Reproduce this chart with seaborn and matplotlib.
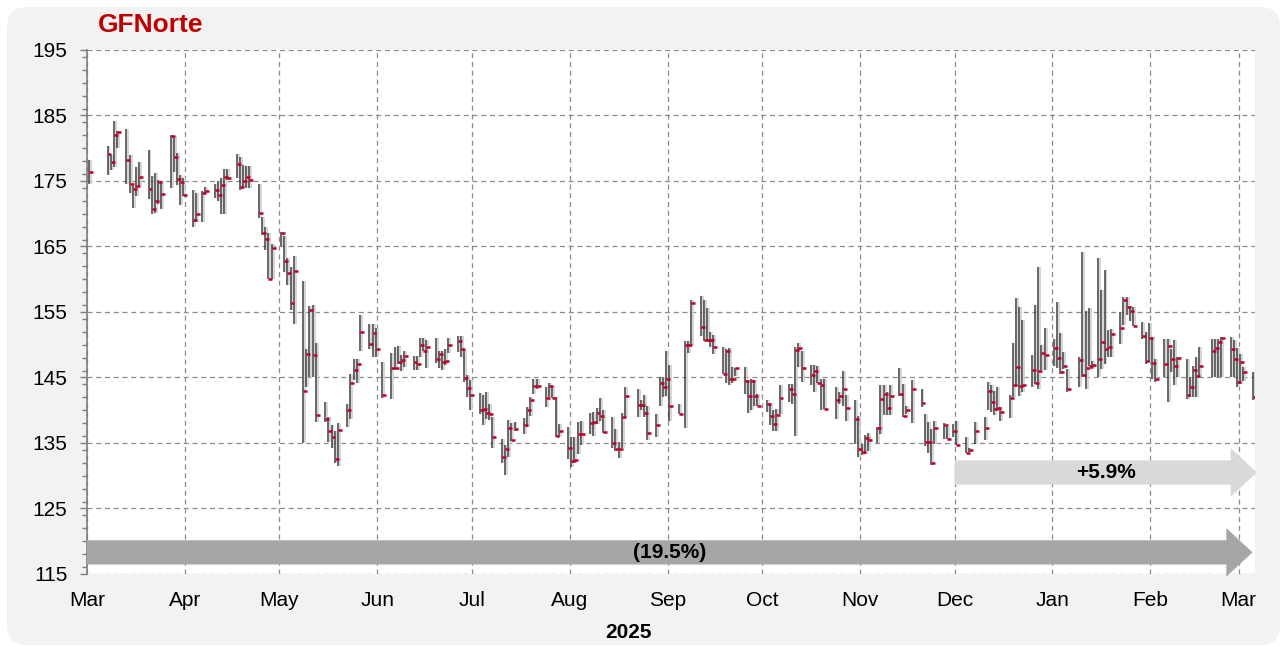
import numpy as np
import pandas as pd
import matplotlib
matplotlib.use('Agg')
import matplotlib.pyplot as plt
import matplotlib.dates as mdates
import seaborn as sns
from matplotlib.patches import FancyBboxPatch, FancyArrow
from matplotlib.ticker import MultipleLocator

# ---------------------------------------------------------
# Data (day = days after 2024-03-01)
# ---------------------------------------------------------
start_date = pd.Timestamp('2024-03-01')

days = [0, 6, 7, 8, 9, 12, 13, 14, 15, 16, 19, 20, 21, 22, 23, 26, 27, 28, 29, 30,
        33, 34, 36, 37, 40, 41, 42, 43, 44, 47, 48, 49, 50, 51, 54, 55, 56, 57, 58,
        61, 62, 63, 64, 65, 68, 69, 70, 71, 72, 75, 76, 77, 78, 79, 82, 83, 84, 85, 86,
        89, 90, 91, 93, 96, 97, 98, 99, 100, 103, 104, 105, 106, 107, 110, 111, 112, 113, 114,
        117, 118, 119, 120, 121, 124, 125, 126, 127, 128, 131, 132, 133, 134, 135,
        138, 139, 140, 141, 142, 145, 146, 147, 148, 149, 152, 153, 154, 155, 156,
        159, 160, 161, 162, 163, 166, 167, 168, 169, 170, 174, 175, 176, 177,
        180, 181, 182, 183, 184, 187, 189, 190, 191, 194, 195, 196, 197, 198,
        201, 202, 203, 204, 205, 208, 209, 210, 211, 212, 215, 216, 217, 218, 219,
        222, 223, 224, 225, 226, 229, 230, 231, 232, 233, 237, 238, 239, 240,
        243, 244, 245, 246, 247, 250, 251, 252, 253, 254, 257, 258, 259, 261,
        264, 265, 266, 267, 268, 271, 272, 274, 275, 278, 279, 281,
        284, 285, 286, 287, 288, 289, 292, 293, 294, 295, 296, 299, 300, 301, 302, 303,
        306, 307, 308, 309, 310, 314, 315, 316, 317, 318, 320, 321, 322, 323, 324,
        327, 328, 329, 330, 331, 334, 335, 336, 337, 338, 341, 342, 343, 344, 345,
        348, 349, 350, 351, 352, 356, 357, 358, 359, 362, 363, 364, 365, 366, 369]

highs = [178.2, 180.4, 179.0, 184.2, 182.6, 182.9, 179.0, 174.2, 177.2, 177.9, 179.7, 175.7, 176.2, 175.1, 175.0,
         182.0, 181.8, 179.2, 175.9, 175.5, 173.7, 173.2, 173.5, 174.1, 174.6, 175.0, 175.5, 176.9, 176.9,
         179.1, 178.7, 177.4, 177.3, 177.3, 174.6, 169.5, 168.0, 167.0, 165.4,
         167.2, 166.6, 163.2, 161.9, 163.5, 159.8, 149.4, 155.9, 156.0, 150.3, 141.3, 139.0, 137.7, 136.9, 138.0,
         141.0, 145.6, 147.8, 147.8, 154.6, 153.1, 153.1, 152.5, 147.3, 148.8, 149.6, 149.8, 148.4, 149.1,
         148.3, 148.3, 151.0, 151.0, 150.8, 151.0, 149.1, 149.0, 149.3, 151.0,
         151.3, 151.4, 149.2, 145.4, 144.6, 142.6, 142.3, 142.8, 141.0, 139.0, 135.6, 134.7, 138.5, 138.0, 138.2,
         138.8, 140.5, 142.0, 144.8, 144.8, 143.6, 144.1, 143.7, 142.0, 137.9, 137.5, 135.9, 135.9, 138.2, 138.3,
         139.6, 139.7, 140.4, 141.9, 140.1, 139.0, 137.2, 135.1, 139.6, 143.5, 143.2, 141.5, 142.4, 140.7,
         139.5, 145.0, 145.0, 149.0, 146.9, 141.0, 150.5, 150.6, 156.8, 157.5, 156.9, 155.6, 152.0, 151.5,
         149.6, 149.3, 149.5, 146.6, 146.5, 146.6, 144.6, 144.7, 144.6, 142.5, 141.6, 141.1, 140.0, 140.2, 143.9,
         144.0, 144.0, 149.7, 150.3, 149.1, 146.9, 146.9, 146.7, 144.7, 144.7, 143.5, 142.8, 146.0, 142.4,
         141.5, 139.1, 134.8, 136.2, 136.5, 137.4, 143.8, 143.8, 142.8, 143.9, 146.4, 144.0, 140.7, 144.6,
         143.3, 139.4, 138.2, 137.1, 138.4, 138.0, 137.4, 137.9, 138.4, 135.9, 134.3, 138.2,
         138.9, 144.3, 143.8, 143.0, 143.5, 140.5, 142.4, 150.3, 157.2, 155.8, 153.8, 148.4, 156.0, 161.9, 149.9, 152.6,
         150.9, 156.5, 151.8, 148.9, 146.3, 148.1, 164.2, 155.1, 155.6, 147.5, 163.2, 158.4, 161.4, 152.3, 152.4,
         155.0, 157.3, 157.3, 155.9, 155.8, 153.5, 152.0, 153.3, 151.2, 147.9, 150.9, 150.9, 149.4, 150.7, 148.1,
         147.9, 145.1, 146.8, 148.1, 149.6, 150.9, 150.9, 150.9, 151.2, 151.2, 150.8, 149.5, 148.6, 146.6, 145.9]

lows = [174.5, 175.9, 176.7, 177.2, 180.1, 174.5, 173.1, 170.9, 172.7, 174.2, 172.2, 169.9, 170.1, 171.5, 170.8,
        174.0, 176.4, 174.4, 171.3, 172.7, 168.0, 168.7, 168.7, 173.2, 172.4, 172.0, 170.0, 170.0, 175.1,
        175.5, 173.6, 174.1, 174.0, 174.0, 169.3, 166.7, 164.4, 160.0, 160.0,
        165.0, 161.1, 159.1, 155.3, 153.2, 135.0, 143.5, 145.1, 145.1, 138.2, 138.2, 135.1, 134.3, 131.9, 131.5,
        137.4, 138.7, 144.6, 144.1, 149.1, 149.3, 148.2, 148.1, 141.9, 141.7, 146.1, 147.0, 146.0, 146.6,
        146.1, 146.2, 148.1, 149.0, 146.5, 147.2, 146.4, 146.2, 146.9, 148.7,
        148.9, 148.2, 144.3, 142.0, 140.0, 139.4, 137.7, 138.7, 138.5, 134.2, 132.0, 130.1, 132.9, 135.3, 136.8,
        136.4, 137.4, 139.1, 142.5, 143.3, 140.5, 142.0, 141.8, 135.9, 135.9, 132.5, 131.3, 132.0, 133.3, 134.7,
        136.3, 136.0, 137.9, 138.4, 136.6, 134.3, 133.8, 132.7, 134.3, 139.0, 139.0, 140.0, 139.0, 135.5,
        135.9, 140.7, 142.0, 142.1, 138.3, 139.5, 137.3, 148.7, 150.0, 151.3, 150.5, 150.5, 149.7, 148.6,
        145.6, 144.2, 143.8, 144.1, 145.2, 142.5, 139.6, 140.0, 140.7, 140.7, 139.7, 137.7, 136.9, 136.9, 139.5,
        141.3, 141.0, 136.1, 146.6, 144.3, 143.8, 142.8, 144.1, 140.0, 140.2, 138.7, 141.0, 140.6, 138.4,
        134.8, 132.8, 133.1, 133.3, 133.8, 135.0, 136.4, 139.2, 139.2, 139.2, 142.2, 138.9, 139.5, 138.0,
        140.5, 134.6, 133.4, 131.7, 134.8, 135.6, 135.6, 135.9, 134.7, 133.5, 133.7, 134.8,
        135.5, 140.0, 139.7, 139.2, 140.0, 138.4, 138.8, 142.0, 143.5, 142.1, 142.8, 143.5, 144.0, 143.3, 146.1, 146.1,
        146.7, 146.5, 145.5, 146.3, 142.8, 143.5, 145.1, 143.2, 146.7, 146.3, 145.1, 146.3, 147.1, 148.1, 148.1,
        150.1, 153.0, 154.5, 153.7, 152.8, 150.9, 147.1, 147.3, 144.8, 144.3, 145.1, 141.2, 145.8, 143.8, 145.1,
        141.7, 142.0, 142.0, 142.0, 145.1, 145.1, 145.1, 145.1, 145.1, 145.1, 145.1, 143.5, 144.0, 144.5, 141.6]

closes = [176.4, 179.1, 177.9, 182.0, 182.5, 178.2, 174.5, 173.8, 174.3, 175.6, 173.8, 170.8, 172.0, 174.8, 173.0,
          181.9, 178.6, 175.3, 174.9, 172.9, 169.0, 169.9, 173.2, 173.5, 173.7, 172.9, 174.4, 175.6, 175.5,
          177.6, 174.1, 175.0, 175.6, 175.2, 170.1, 167.1, 166.1, 160.0, 164.7,
          167.0, 162.8, 161.0, 156.4, 161.2, 143.0, 148.6, 155.3, 148.4, 139.2, 138.6, 136.9, 135.9, 132.6, 137.0,
          140.1, 144.1, 146.1, 147.0, 151.9, 150.1, 151.8, 149.3, 142.4, 146.5, 146.5, 147.4, 147.7, 148.3,
          147.4, 147.1, 149.9, 149.1, 149.6, 147.9, 148.6, 147.4, 147.5, 149.9,
          150.6, 149.3, 144.9, 143.4, 142.4, 140.0, 140.2, 139.6, 139.5, 135.9, 132.9, 134.1, 137.3, 135.4, 137.1,
          137.8, 140.0, 141.6, 143.7, 143.7, 141.9, 143.7, 141.8, 136.0, 136.8, 134.2, 132.2, 132.4, 136.3, 136.3,
          138.1, 138.2, 139.6, 139.1, 136.7, 135.0, 134.1, 134.1, 138.9, 142.1, 140.8, 140.8, 139.6, 136.6,
          137.8, 144.2, 143.6, 144.7, 140.6, 139.5, 150.0, 150.0, 156.4, 152.7, 150.7, 150.7, 150.7, 149.6,
          145.6, 149.1, 144.8, 144.8, 146.4, 144.4, 142.1, 144.4, 142.1, 140.7, 141.0, 139.1, 137.9, 139.3, 141.8,
          143.3, 142.5, 149.2, 149.5, 146.4, 145.4, 146.0, 144.1, 143.9, 140.2, 141.5, 142.1, 143.3, 140.4,
          138.7, 134.1, 133.6, 135.8, 135.4, 137.3, 141.7, 142.5, 140.4, 142.2, 142.5, 139.1, 140.0, 143.3,
          141.1, 135.1, 135.2, 131.9, 137.3, 137.8, 135.6, 136.8, 134.7, 133.5, 133.9, 136.9,
          137.3, 142.9, 141.2, 140.2, 140.4, 139.7, 141.8, 143.8, 146.6, 143.7, 143.9, 146.1, 144.2, 146.0, 148.7, 148.5,
          149.5, 148.0, 145.9, 146.7, 143.2, 147.7, 145.4, 146.5, 146.7, 146.9, 147.8, 150.4, 149.4, 149.6, 151.7,
          152.6, 156.9, 155.7, 155.1, 152.8, 151.4, 147.5, 151.1, 147.2, 144.8, 147.1, 149.8, 147.8, 146.8, 148.0,
          142.4, 143.5, 146.1, 145.3, 146.7, 149.0, 149.5, 150.4, 151.0, 149.4, 147.8, 144.3, 147.3, 145.9, 142.0]

# performance arrows
arrow_labels = ['(19.5%)', '+5.9%']
arrow_start = ['2024-03-01', '2024-12-01']
arrow_end = ['2025-03-05 10:00', '2025-03-06 19:00']
arrow_level = [118.3, 130.5]
arrow_colors = ['#a6a6a6', '#d9d9d9']

# ---------------------------------------------------------
# Styling
# ---------------------------------------------------------
sns.set_theme(style='white')
plt.rcParams['font.family'] = ['Liberation Sans', 'DejaVu Sans']

fig = plt.figure(figsize=(12.87, 6.47), dpi=100, facecolor='white')

# rounded light-grey panel behind everything
panel = FancyBboxPatch((0.07, 0.02), 12.73, 6.38,
                       boxstyle='round,pad=0,rounding_size=0.2',
                       transform=fig.dpi_scale_trans,
                       fc='#f2f2f2', ec='none', zorder=-1)
fig.patches.append(panel)

ax = fig.add_axes([87 / 1287, 73 / 647, 1168 / 1287, 524 / 647])
ax.set_facecolor('white')

dates = start_date + pd.to_timedelta(np.array(days) + 0.5, unit='D')

# high-low bars (light shadow + dark line) and red close ticks
ax.vlines(dates + pd.Timedelta(hours=15), lows, highs, color='#d2d2d2', lw=1.3, zorder=2)
ax.vlines(dates, lows, highs, color='#3f3f3f', lw=1.1, zorder=3)
ax.hlines(closes, dates, dates + pd.Timedelta(hours=30), color='#c0002a', lw=1.8, zorder=4)

ax.set_xlim(start_date, start_date + pd.Timedelta(days=370.2))
ax.set_ylim(115, 195)

# grid + ticks
ax.set_yticks(np.arange(115, 196, 10))
ax.yaxis.set_minor_locator(MultipleLocator(2))
ax.xaxis.set_major_locator(mdates.MonthLocator())
ax.xaxis.set_major_formatter(mdates.DateFormatter('%b'))
ax.grid(True, which='major', axis='both', color='#8c8c8c', lw=0.9, ls=(0, (4, 3)), zorder=1)
ax.set_axisbelow(True)

for side in ['top', 'right', 'bottom']:
    ax.spines[side].set_visible(False)
ax.spines['left'].set_color('#7f7f7f')
ax.spines['left'].set_linewidth(1.2)

ax.tick_params(axis='y', which='major', left=True, direction='out', length=5, width=1,
               color='#7f7f7f', labelsize=15, pad=9, labelcolor='black')
ax.tick_params(axis='y', which='minor', left=True, direction='out', length=3.5, width=1,
               color='#7f7f7f')
ax.tick_params(axis='x', which='major', length=0, labelsize=15, pad=12, labelcolor='black')

# performance arrows
for lab, s, e, lev, col in zip(arrow_labels, arrow_start, arrow_end, arrow_level, arrow_colors):
    x0 = mdates.date2num(pd.Timestamp(s))
    x1 = mdates.date2num(pd.Timestamp(e))
    arr = FancyArrow(x0, lev, x1 - x0, 0, width=3.7, head_width=7.4, head_length=8.3,
                     length_includes_head=True, fc=col, ec='none', zorder=5, clip_on=False)
    ax.add_patch(arr)
    ax.text((x0 + x1) / 2, lev, lab, ha='center', va='center', fontsize=15,
            fontweight='bold', color='black', zorder=6)

# title and year label
fig.text(98 / 1287, 1 - 25 / 647, 'GFNorte', color='#c00000', fontsize=19,
         fontweight='bold', ha='left', va='center')
fig.text(628 / 1287, 1 - 632 / 647, '2025', color='black', fontsize=15,
         fontweight='bold', ha='center', va='center')

fig.savefig('out.png', dpi=100, facecolor='white')
